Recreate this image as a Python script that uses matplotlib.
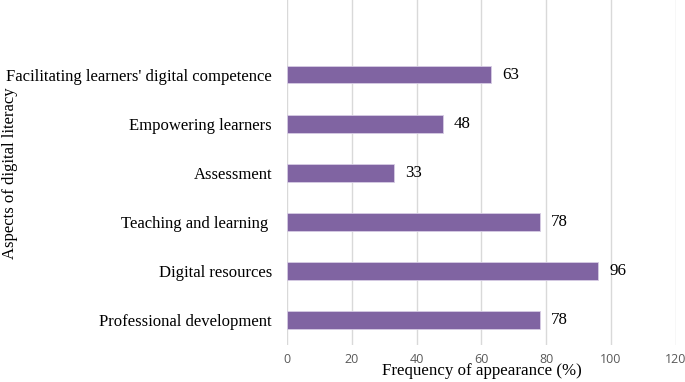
import matplotlib
matplotlib.use('Agg')
import matplotlib.pyplot as plt

categories = ['Professional development', 'Digital resources', 'Teaching and learning ',
              'Assessment', 'Empowering learners', "Facilitating learners' digital competence"]
values = [78, 96, 78, 33, 48, 63]
xticks = [0, 20, 40, 60, 80, 100, 120]

serif = 'Liberation Serif'

fig = plt.figure(figsize=(6.85, 3.82), dpi=100)
ax = fig.add_axes([0.4194, 0.098, 0.567, 0.902])

pos = list(range(len(categories)))
ax.barh(pos, values, height=0.36, color='#8064A2', edgecolor='#d6cce4', linewidth=0.6, zorder=3)

# value labels next to bars
for p, v in zip(pos, values):
    ax.text(v + 3.4, p, str(v), va='center', ha='left', fontsize=12.2, family=serif)

ax.set_xlim(0, 120)
ax.set_ylim(-0.5, 6.52)
ax.set_xticks(xticks)
ax.set_yticks(pos)
ax.set_yticklabels(categories, fontsize=12, family=serif)
ax.tick_params(axis='y', length=0, pad=11)
ax.tick_params(axis='x', length=0, pad=6, labelsize=9, labelcolor='#595959')
for lab in ax.get_xticklabels():
    lab.set_family('Open Sans')

ax.grid(axis='x', color='#d9d9d9', linewidth=1, zorder=0)
for s in ax.spines.values():
    s.set_visible(False)

ax.set_xlabel('Frequency of appearance (%)', fontsize=12.2, family=serif, labelpad=-2)
fig.text(0.014, 0.546, 'Aspects of digital literacy', rotation=90, fontsize=12,
         family=serif, ha='center', va='center')

fig.savefig('out.png', dpi=100)
